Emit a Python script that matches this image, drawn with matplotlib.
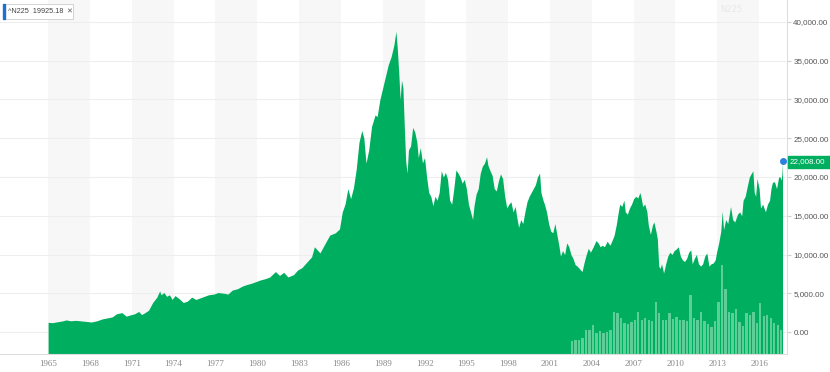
import numpy as np
import matplotlib.pyplot as plt
from matplotlib.patches import Rectangle

# Nikkei 225 (year, close)
years = [1965.0, 1965.3, 1965.6, 1966.0, 1966.3, 1966.6, 1967.0, 1967.4, 1967.8, 1968.1,
         1968.5, 1968.9, 1969.2, 1969.6, 1969.9, 1970.3, 1970.6, 1970.9, 1971.2, 1971.5,
         1971.7, 1971.9, 1972.2, 1972.5, 1972.8, 1973.0, 1973.1, 1973.3, 1973.5, 1973.7,
         1973.9, 1974.1, 1974.4, 1974.7, 1975.0, 1975.3, 1975.6, 1975.9, 1976.2, 1976.5,
         1976.9, 1977.2, 1977.6, 1977.9, 1978.2, 1978.6, 1978.9, 1979.2, 1979.6, 1979.9,
         1980.2, 1980.6, 1980.9, 1981.3, 1981.6, 1981.9, 1982.2, 1982.6, 1982.9, 1983.2,
         1983.5, 1983.9, 1984.1, 1984.5, 1984.8, 1985.2, 1985.6, 1985.9, 1986.1, 1986.3,
         1986.5, 1986.7, 1986.9, 1987.1, 1987.3, 1987.5, 1987.65, 1987.8, 1988.0, 1988.2,
         1988.45, 1988.6, 1988.8, 1989.0, 1989.2, 1989.4, 1989.6, 1989.8, 1989.95, 1990.05,
         1990.15, 1990.25, 1990.35, 1990.45, 1990.55, 1990.65, 1990.75, 1990.85, 1991.0, 1991.15,
         1991.3, 1991.45, 1991.55, 1991.7, 1991.85, 1992.0, 1992.15, 1992.3, 1992.45, 1992.6,
         1992.75, 1992.9, 1993.05, 1993.2, 1993.35, 1993.5, 1993.65, 1993.8, 1993.95, 1994.1,
         1994.25, 1994.4, 1994.55, 1994.7, 1994.85, 1995.0, 1995.15, 1995.3, 1995.45, 1995.55,
         1995.7, 1995.85, 1996.0, 1996.15, 1996.3, 1996.45, 1996.55, 1996.7, 1996.85, 1997.0,
         1997.15, 1997.3, 1997.45, 1997.6, 1997.75, 1997.9, 1998.05, 1998.2, 1998.35, 1998.5,
         1998.6, 1998.75, 1998.9, 1999.05, 1999.2, 1999.35, 1999.5, 1999.65, 1999.8, 1999.95,
         2000.1, 2000.25, 2000.35, 2000.5, 2000.6, 2000.75, 2000.9, 2001.05, 2001.2, 2001.35,
         2001.5, 2001.65, 2001.75, 2001.9, 2002.05, 2002.2, 2002.35, 2002.5, 2002.65, 2002.8,
         2002.95, 2003.1, 2003.3, 2003.45, 2003.6, 2003.75, 2003.9, 2004.1, 2004.3, 2004.45,
         2004.6, 2004.75, 2004.9, 2005.1, 2005.3, 2005.45, 2005.6, 2005.75, 2005.9, 2006.0,
         2006.15, 2006.3, 2006.4, 2006.55, 2006.7, 2006.85, 2007.0, 2007.15, 2007.3, 2007.45,
         2007.55, 2007.65, 2007.8, 2007.95, 2008.05, 2008.2, 2008.35, 2008.45, 2008.6, 2008.7,
         2008.8, 2008.9, 2009.0, 2009.15, 2009.3, 2009.45, 2009.6, 2009.75, 2009.9, 2010.05,
         2010.2, 2010.35, 2010.5, 2010.65, 2010.8, 2010.95, 2011.1, 2011.2, 2011.35, 2011.5,
         2011.65, 2011.8, 2011.95, 2012.1, 2012.25, 2012.4, 2012.55, 2012.7, 2012.85, 2012.95,
         2013.1, 2013.25, 2013.35, 2013.45, 2013.6, 2013.75, 2013.95, 2014.1, 2014.25, 2014.45,
         2014.6, 2014.75, 2014.85, 2015.0, 2015.15, 2015.3, 2015.45, 2015.55, 2015.65, 2015.75,
         2015.85, 2016.0, 2016.1, 2016.25, 2016.45, 2016.6, 2016.75, 2016.85, 2016.95, 2017.1,
         2017.25, 2017.4, 2017.5, 2017.58, 2017.64, 2017.68]
close = [1250, 1200, 1300, 1420, 1560, 1450, 1500, 1430, 1350, 1290,
         1450, 1700, 1800, 1950, 2350, 2500, 2050, 2200, 2350, 2650,
         2250, 2450, 2800, 3800, 4500, 5300, 4800, 5100, 4600, 4800,
         4200, 4700, 4300, 3800, 4000, 4500, 4200, 4400, 4600, 4800,
         4900, 5100, 5000, 4900, 5400, 5600, 5900, 6100, 6300, 6500,
         6700, 6900, 7100, 7800, 7300, 7700, 7100, 7400, 8000, 8300,
         8900, 9700, 11000, 10200, 11200, 12500, 12800, 13300, 15500, 16500,
         18500, 17200, 18600, 21000, 24500, 26000, 25000, 21800, 23500, 26500,
         28000, 27800, 30000, 31500, 33000, 34500, 35500, 37000, 38800, 36500,
         33500, 30000, 32500, 31500, 26500, 22000, 20500, 23500, 24000, 26400,
         25800, 24500, 22500, 23800, 21800, 22500, 20000, 18000, 17500, 16300,
         17500, 17000, 18000, 20800, 20000, 20600, 19700, 17000, 16500, 18500,
         20900, 20500, 20000, 19200, 19700, 18500, 16500, 15500, 14500, 16300,
         17800, 18500, 20500, 21400, 21800, 22600, 21500, 20800, 20200, 18500,
         18200, 19500, 20400, 19800, 17500, 16000, 16500, 16800, 15500, 16200,
         15000, 13500, 14500, 14000, 15500, 16800, 17500, 18000, 18500, 19000,
         20000, 20500, 18000, 17000, 16500, 15500, 14000, 13000, 12800, 14000,
         12500, 11000, 9800, 10500, 10000, 11500, 11000, 10000, 9500, 8700,
         8500, 8200, 7800, 9000, 10000, 10800, 10300, 11000, 11800, 11500,
         11000, 11200, 11000, 11700, 11200, 11800, 12500, 13800, 15500, 16500,
         16200, 17000, 15500, 15200, 16000, 16500, 17200, 17500, 17300, 18000,
         17200, 16200, 16500, 15500, 13800, 12600, 13800, 14200, 13000, 12000,
         8500, 8200, 8800, 7600, 8800, 9800, 10300, 10000, 10500, 10700,
         11000, 9800, 9300, 9100, 9500, 10300, 10600, 8800, 9500, 10000,
         8800, 8500, 8800, 9800, 10200, 8500, 8800, 8900, 9300, 10300,
         11500, 13000, 15600, 13200, 14500, 14000, 16200, 14500, 14200, 15200,
         15500, 15000, 17000, 17500, 18800, 20000, 20500, 20800, 18000, 17500,
         19800, 18500, 16000, 16500, 15500, 16500, 17000, 18500, 19300, 19400,
         18500, 20000, 20000, 19600, 20500, 22008]

# volume overlay (drawn on the price scale, top of each bar)
vol_years = [2002.5, 2002.75, 2003.0, 2003.25, 2003.5, 2003.75, 2004.0, 2004.25, 2004.5, 2004.75,
             2005.0, 2005.25, 2005.5, 2005.75, 2006.0, 2006.25, 2006.5, 2006.75, 2007.0, 2007.25,
             2007.5, 2007.75, 2008.0, 2008.25, 2008.5, 2008.75, 2009.0, 2009.25, 2009.5, 2009.75,
             2010.0, 2010.25, 2010.5, 2010.75, 2011.0, 2011.25, 2011.5, 2011.75, 2012.0, 2012.25,
             2012.5, 2012.75, 2013.0, 2013.25, 2013.5, 2013.75, 2014.0, 2014.25, 2014.5, 2014.75,
             2015.0, 2015.25, 2015.5, 2015.75, 2016.0, 2016.25, 2016.5, 2016.75, 2017.0, 2017.25,
             2017.5]
vol_top = [-1100, -1000, -1050, -800, 300, 200, 900, -100, 100, -150,
           0, 200, 2600, 2450, 1800, 1200, 1000, 1300, 1600, 2600,
           1500, 1800, 1500, 1400, 3870, 2400, 1600, 1500, 2500, 1700,
           2000, 1500, 1600, 1400, 4770, 1800, 1500, 2600, 1400, 1000,
           700, 1400, 3900, 8640, 5600, 2600, 2500, 3000, 1300, 800,
           2400, 2200, 2600, 1200, 3740, 2100, 2200, 1800, 1200, 900,
           200]

tick_years = list(range(1965, 2017, 3))
y_ticks = list(range(0, 40001, 5000))

green = '#00ae5f'
ymin, ymax = -2836, 42836

fig = plt.figure(figsize=(8.3, 3.72), dpi=100)
ax = fig.add_axes([0, 1 - 354 / 372, 787 / 830, 354 / 372])
ax.set_xlim(1961.55, 2018.0)
ax.set_ylim(ymin, ymax)

for y0 in tick_years[::2]:
    ax.axvspan(y0, y0 + 3, color='#f7f7f7', lw=0, zorder=0)

ax.fill_between(years, close, ymin, color=green, lw=0, zorder=2)
vt = np.array(vol_top)
ax.bar(vol_years, vt - ymin, bottom=ymin, width=0.17, align='edge',
       color='#5ccf98', lw=0, zorder=3)
ax.plot(years[-1], close[-1], 'o', color='#2e7fe0', ms=4, zorder=5, clip_on=False)

ax.yaxis.tick_right()
ax.set_yticks(y_ticks)
ax.set_yticklabels(['{:,.2f}'.format(v) for v in y_ticks], fontfamily='Liberation Sans')
ax.set_xticks(tick_years)
ax.set_xticklabels([str(y) for y in tick_years], fontfamily='Liberation Serif')
ax.tick_params(axis='y', length=3, color='#d0d0d0', labelsize=5.8, labelcolor='#555555', pad=1.5)
ax.tick_params(axis='x', length=0, labelsize=6.5, labelcolor='#888888', pad=4)
ax.grid(axis='y', color='#eeeeee', lw=0.8)
ax.set_axisbelow(True)
for s in ['left', 'top']:
    ax.spines[s].set_visible(False)
for s in ['right', 'bottom']:
    ax.spines[s].set_color('#dddddd')

# last value tag on the right
fig.add_artist(Rectangle((788 / 830, 1 - 168 / 372), 42 / 830, 12 / 372,
                         transform=fig.transFigure, color=green, zorder=4))
fig.text(790 / 830, 1 - 162 / 372, '{:,.2f}'.format(close[-1]), color='white',
         fontsize=5.8, va='center', ha='left', fontfamily='Liberation Sans', zorder=6)

# symbol chip top left
fig.add_artist(Rectangle((3 / 830, 1 - 19 / 372), 70 / 830, 15 / 372,
                         transform=fig.transFigure, facecolor='white',
                         edgecolor='#cccccc', lw=0.6, zorder=4))
fig.add_artist(Rectangle((3 / 830, 1 - 19 / 372), 2 / 830, 15 / 372,
                         transform=fig.transFigure, color='#1f6fd1', zorder=5))
fig.text(8 / 830, 1 - 11.5 / 372, '^N225  19925.18', fontsize=5.2, color='#444444',
         va='center', fontfamily='Liberation Sans', zorder=6)
fig.text(66 / 830, 1 - 11.5 / 372, '\u2715', fontsize=5, color='#555555', va='center', zorder=6)
fig.text(720 / 830, 1 - 10 / 372, 'N225', fontsize=6, color='#e8e8e8', va='center')

plt.savefig('out.png', dpi=100)
